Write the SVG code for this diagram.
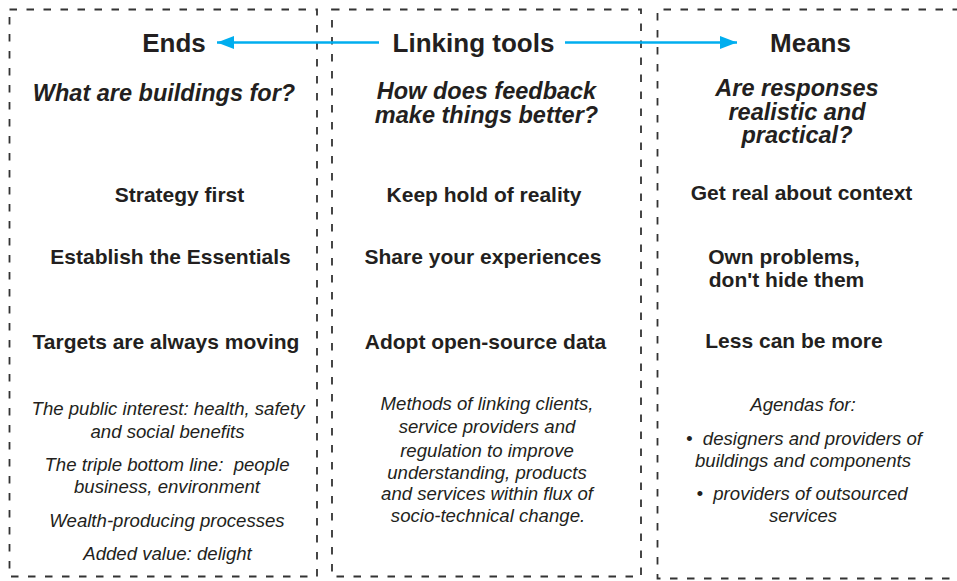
<svg xmlns="http://www.w3.org/2000/svg" width="957" height="581" viewBox="0 0 957 581">
<style>
  text { font-family: "Liberation Sans", Arial, sans-serif; fill: #231f20; text-anchor: middle; }
  .title { font-size: 26px; font-weight: bold; }
  .q { font-size: 23.5px; font-weight: bold; font-style: italic; }
  .item { font-size: 21px; font-weight: bold; }
  .note { font-size: 18.6px; font-style: italic; }
  .box { fill: none; stroke: #333; stroke-width: 1.8; stroke-dasharray: 7.5 9.5; }
  .conn { stroke: #00aeef; stroke-width: 2.5; fill: none; }
</style>
<defs>
  <marker id="arrow" markerUnits="userSpaceOnUse" markerWidth="18" markerHeight="14" refX="17" refY="6.5" orient="auto">
    <path d="M0,0 L17,6.5 L0,13 z" fill="#00aeef"/>
  </marker>
</defs>
<rect width="957" height="581" fill="#fff"/>

<g id="ends">
  <rect class="box" x="9.5" y="9.5" width="307.5" height="567"/>
  <text class="title" x="174" y="52">Ends</text>
  <text class="q" x="164" y="101">What are buildings for?</text>
  <text class="item" x="179.5" y="202">Strategy first</text>
  <text class="item" x="170.5" y="264">Establish the Essentials</text>
  <text class="item" x="166" y="348.5">Targets are always moving</text>
  <text class="note" y="415"><tspan x="168">The public interest: health, safety</tspan><tspan x="167.5" dy="22.5">and social benefits</tspan></text>
  <text class="note" y="471" xml:space="preserve"><tspan x="167">The triple bottom line:  people</tspan><tspan x="167" dy="22">business, environment</tspan></text>
  <text class="note" x="167" y="527">Wealth-producing processes</text>
  <text class="note" x="167.5" y="560">Added value: delight</text>
</g>

<g id="linking-tools">
  <rect class="box" x="332" y="9.5" width="309" height="567"/>
  <text class="title" x="473.5" y="52">Linking tools</text>
  <text class="q" y="99"><tspan x="486.5">How does feedback</tspan><tspan x="486.5" dy="23.5">make things better?</tspan></text>
  <text class="item" x="484" y="201.5">Keep hold of reality</text>
  <text class="item" x="483" y="264">Share your experiences</text>
  <text class="item" x="485.5" y="348.5">Adopt open-source data</text>
  <text class="note" y="410"><tspan x="487">Methods of linking clients,</tspan><tspan x="487" dy="23">service providers and</tspan><tspan x="487" dy="23.5">regulation to improve</tspan><tspan x="487" dy="22">understanding, products</tspan><tspan x="487" dy="21.5">and services within flux of</tspan><tspan x="488" dy="22">socio-technical change.</tspan></text>
</g>

<g id="means">
  <path class="box" d="M960,9.5 H657.5 V578.5 H960"/>
  <text class="title" x="810.5" y="52">Means</text>
  <text class="q" y="96"><tspan x="797">Are responses</tspan><tspan x="797" dy="23.5">realistic and</tspan><tspan x="797" dy="23.5">practical?</tspan></text>
  <text class="item" x="801.5" y="200">Get real about context</text>
  <text class="item" y="264"><tspan x="784">Own problems,</tspan><tspan x="786.5" dy="23">don't hide them</tspan></text>
  <text class="item" x="794" y="347.5">Less can be more</text>
  <text class="note" x="803" y="411">Agendas for:</text>
  <text class="note" y="444.5" xml:space="preserve"><tspan x="804">•  designers and providers of</tspan><tspan x="803" dy="22.5">buildings and components</tspan></text>
  <text class="note" y="500" xml:space="preserve"><tspan x="802">•  providers of outsourced</tspan><tspan x="803" dy="22">services</tspan></text>
</g>

<g id="connectors">
  <line class="conn" x1="379" y1="42.5" x2="217" y2="42.5" marker-end="url(#arrow)"/>
  <line class="conn" x1="565" y1="42.5" x2="737" y2="42.5" marker-end="url(#arrow)"/>
</g>
</svg>
